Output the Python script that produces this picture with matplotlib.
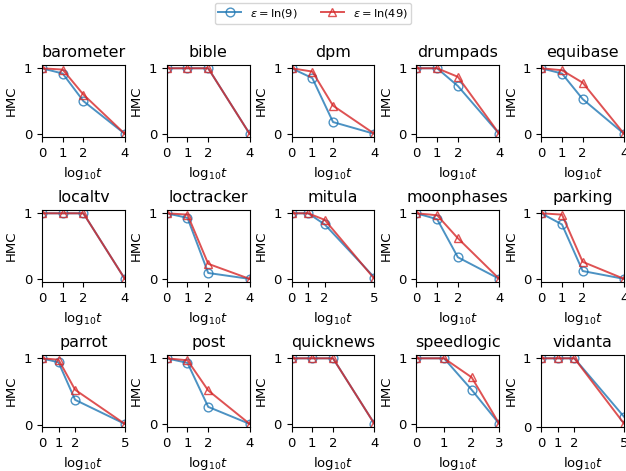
import numpy as np
import matplotlib
matplotlib.use('Agg')
from matplotlib import pyplot as plt

#apps and their values
names = ['barometer', 'bible', 'dpm', 'drumpads', 'equibase',
         'localtv', 'loctracker', 'mitula', 'moonphases', 'parking',
         'parrot', 'post', 'quicknews', 'speedlogic', 'vidanta']

#last log10 t for each app
x_last = [4, 4, 4, 4, 4,
          4, 4, 5, 4, 4,
          5, 4, 4, 3, 5]

#HMC for eps = ln(9)
hmc_ln9 = [[1, 0.92, 0.50, 0], [1, 1, 1, 0], [1, 0.85, 0.18, 0], [1, 1, 0.73, 0], [1, 0.92, 0.53, 0],
           [1, 1, 1, 0], [1, 0.93, 0.09, 0], [1, 1, 0.83, 0.02], [1, 0.91, 0.33, 0], [1, 0.83, 0.12, 0],
           [1, 0.94, 0.38, 0.02], [1, 0.93, 0.26, 0], [1, 1, 1, 0], [1, 1, 0.52, 0], [1, 1, 1, 0.15]]

#HMC for eps = ln(49)
hmc_ln49 = [[1, 0.98, 0.60, 0], [1, 1, 1, 0], [1, 0.95, 0.43, 0], [1, 1, 0.87, 0], [1, 0.97, 0.78, 0],
            [1, 1, 1, 0], [1, 0.98, 0.23, 0], [1, 1, 0.90, 0], [1, 0.97, 0.62, 0], [1, 0.98, 0.26, 0],
            [1, 0.98, 0.53, 0.02], [1, 0.97, 0.51, 0], [1, 1, 1, 0], [1, 1, 0.71, 0], [1, 1, 1, 0.05]]

#slightly smaller text than default
plt.rcParams['font.size'] = 9.5
plt.rcParams['axes.titlesize'] = 11.4
plt.rcParams['lines.linewidth'] = 1.4

fig, axes = plt.subplots(3, 5, figsize=(6.26, 4.71), dpi=100)
fig.subplots_adjust(left=0.067, right=0.997, top=0.862, bottom=0.093, wspace=0.506, hspace=1.01)

for i, ax in enumerate(axes.flat):
    x = [0, 1, 2, x_last[i]]
    l1, = ax.plot(x, hmc_ln9[i], color='tab:blue', marker='o', mfc='none', ms=6.3, alpha=0.8,
                  label=r'$\varepsilon = \ln(9)$')
    l2, = ax.plot(x, hmc_ln49[i], color='tab:red', marker='^', mfc='none', ms=6.3, alpha=0.8,
                  label=r'$\varepsilon = \ln(49)$')
    ax.set_xlim(0, x_last[i])
    ax.set_xticks(x)
    ax.set_yticks([0, 1])
    ax.set_title(names[i])
    ax.set_xlabel(r'$\mathrm{log}_{10}t$')
    ax.set_ylabel('HMC')

#legend on top
fig.legend(handles=[l1, l2], loc='upper center', ncol=2, bbox_to_anchor=(0.5, 1.006),
           fontsize=8.2, borderpad=0.35)

fig.savefig('out.png', dpi=100)
